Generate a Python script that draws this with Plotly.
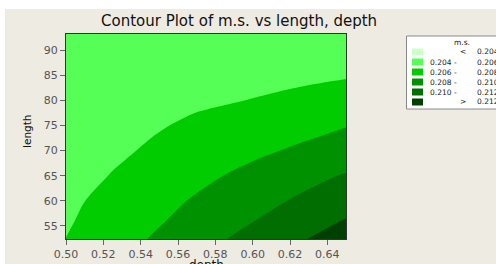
import plotly.graph_objects as go

# ---------------- data ----------------
depth = [0.50, 0.525, 0.55, 0.575, 0.60, 0.625, 0.65]
length = [52.4, 56, 60, 65, 70, 72.5, 75, 77.5, 80, 85, 93.2]
# m.s. estimated at each (length row, depth column)
ms = [
    [0.20602, 0.20716, 0.20830, 0.20948, 0.21065, 0.21181, 0.21297],
    [0.20581, 0.20683, 0.20785, 0.20890, 0.20995, 0.21104, 0.21213],
    [0.20562, 0.20654, 0.20746, 0.20838, 0.20931, 0.21025, 0.21118],
    [0.20527, 0.20608, 0.20689, 0.20770, 0.20852, 0.20934, 0.21015],
    [0.20502, 0.20567, 0.20632, 0.20697, 0.20762, 0.20827, 0.20892],
    [0.20497, 0.20553, 0.20610, 0.20667, 0.20724, 0.20781, 0.20838],
    [0.20487, 0.20538, 0.20589, 0.20640, 0.20691, 0.20742, 0.20793],
    [0.20475, 0.20521, 0.20566, 0.20611, 0.20657, 0.20702, 0.20748],
    [0.20452, 0.20491, 0.20529, 0.20568, 0.20606, 0.20645, 0.20683],
    [0.20430, 0.20456, 0.20482, 0.20508, 0.20534, 0.20560, 0.20585],
    [0.20410, 0.20430, 0.20450, 0.20470, 0.20490, 0.20510, 0.20530],
]
levels = [0.204, 0.206, 0.208, 0.210, 0.212]
band_colors = ["#CCFFCC", "#55FF55", "#00CC00", "#009100", "#006E00", "#004000"]
x_ticks = [0.50, 0.52, 0.54, 0.56, 0.58, 0.60, 0.62, 0.64]
x_ticklabels = ["0.50", "0.52", "0.54", "0.56", "0.58", "0.60", "0.62", "0.64"]
y_ticks = [55, 60, 65, 70, 75, 80, 85, 90]
y_ticklabels = ["55", "60", "65", "70", "75", "80", "85", "90"]
title_text = "Contour Plot of m.s. vs length, depth"
x_title = "depth"
y_title = "length"
legend_title = "m.s."

# ---------------- layout geometry ----------------
W, H = 496, 264
PL, PR, PT, PB = 66, 346, 34, 239
BEIGE = "#EEEBE2"
FONT = "DejaVu Sans"


def px(x):
    return (x - PL) / (PR - PL)


def py(y):
    return (PB - y) / (PB - PT)


n = len(band_colors)
colorscale = []
for i, c in enumerate(band_colors):
    colorscale.append([i / n, c])
    colorscale.append([(i + 1) / n, c])

step = levels[1] - levels[0]
fig = go.Figure(
    go.Contour(
        x=depth,
        y=length,
        z=ms,
        autocontour=False,
        contours=dict(start=levels[0], end=levels[-1], size=step, coloring="fill"),
        colorscale=colorscale,
        line=dict(width=0, smoothing=1.0),
        showscale=False,
        hoverinfo="skip",
    )
)

shapes = [
    dict(type="rect", xref="paper", yref="paper", x0=px(5), x1=px(W + 5),
         y0=py(H + 5), y1=py(9), fillcolor=BEIGE, line=dict(width=0), layer="below"),
    dict(type="rect", xref="paper", yref="paper", x0=px(406.5), x1=px(530),
         y0=py(109), y1=py(36), fillcolor="white", line=dict(color="#8A8A8A", width=1)),
]
annotations = [
    dict(text=title_text, xref="paper", yref="paper", x=px(238.5), y=py(21),
         showarrow=False, font=dict(family=FONT, size=15, color="#111"),
         xanchor="center", yanchor="middle"),
    dict(text=x_title, xref="paper", yref="paper", x=px(206), y=py(264.5),
         showarrow=False, font=dict(family=FONT, size=12, color="#111"),
         xanchor="center", yanchor="middle"),
    dict(text=y_title, xref="paper", yref="paper", x=px(27), y=py(132),
         showarrow=False, textangle=-90, font=dict(family=FONT, size=10.5, color="#111"),
         xanchor="center", yanchor="middle"),
    dict(text=legend_title, xref="paper", yref="paper", x=px(462), y=py(42),
         showarrow=False, font=dict(family=FONT, size=7.5, color="#222"),
         xanchor="center", yanchor="middle"),
]

lf = dict(family=FONT, size=7.5, color="#222")
for i, c in enumerate(band_colors):
    yc = 52 + 10 * i
    shapes.append(dict(type="rect", xref="paper", yref="paper", x0=px(412), x1=px(423),
                       y0=py(yc + 3.5), y1=py(yc - 3.5), fillcolor=c, line=dict(width=0)))
    if i == 0:
        parts = [("<", 463, "center"), (f"{levels[0]:.3f}", 475, "left")]
    elif i == n - 1:
        parts = [(">", 463, "center"), (f"{levels[-1]:.3f}", 475, "left")]
    else:
        parts = [(f"{levels[i-1]:.3f}", 428, "left"), ("-", 455, "center"),
                 (f"{levels[i]:.3f}", 475, "left")]
    for txt, xx, anc in parts:
        annotations.append(dict(text=txt, xref="paper", yref="paper", x=px(xx), y=py(yc),
                                showarrow=False, font=lf, xanchor=anc, yanchor="middle"))

axis_common = dict(showline=True, mirror=True, linecolor="#333", linewidth=1,
                   ticks="outside", ticklen=5, tickcolor="#666", showgrid=False,
                   zeroline=False, automargin=False,
                   tickfont=dict(family=FONT, size=11, color="#555"))

fig.update_layout(
    width=W, height=H,
    autosize=False,
    margin=dict(l=PL, r=W - PR, t=PT, b=H - PB, pad=0, autoexpand=False),
    paper_bgcolor="white",
    plot_bgcolor=BEIGE,
    showlegend=False,
    xaxis=dict(range=[0.50, 0.65], tickvals=x_ticks, ticktext=x_ticklabels, **axis_common),
    yaxis=dict(range=[52.4, 93.2], tickvals=y_ticks, ticktext=y_ticklabels, **axis_common),
    shapes=shapes,
    annotations=annotations,
)

fig.write_html(
    "out.html",
    config={"displayModeBar": False, "responsive": False},
    post_script="document.body.style.margin='0px';",
)
